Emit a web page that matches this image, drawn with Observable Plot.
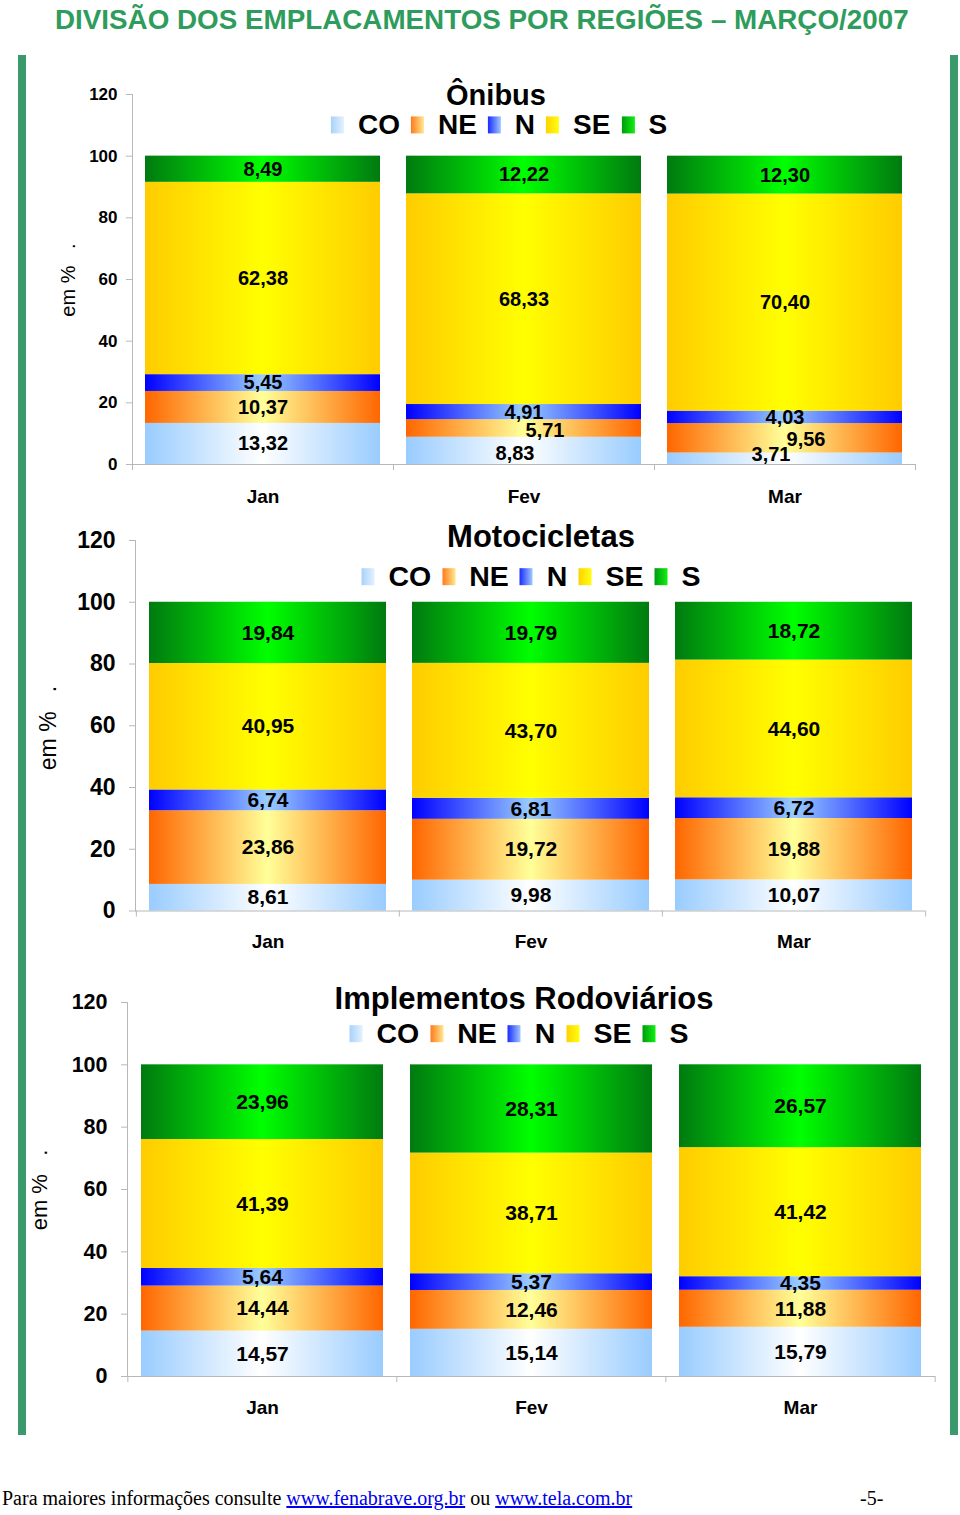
<!DOCTYPE html>
<html><head><meta charset="utf-8">
<script src="https://cdn.jsdelivr.net/npm/d3@7"></script>
<script src="https://cdn.jsdelivr.net/npm/@observablehq/plot@0.6"></script>
<style>
body{margin:0;background:#fff;font-family:"Liberation Sans",Arial,sans-serif;}
#page{position:relative;width:960px;height:1515px;overflow:hidden;background:#fff;}
#title{position:absolute;left:55px;top:6px;font-family:"Liberation Sans",Arial,sans-serif;font-weight:bold;font-size:27.8px;line-height:1;color:#2e9c5c;white-space:nowrap}
.ttl{position:absolute;font-weight:bold;color:#000;white-space:nowrap;transform:translate(-50%,-50%);line-height:0.9;}
.leg{position:absolute;display:flex;align-items:center;transform:translate(-50%,-50%);font-weight:bold;white-space:nowrap;line-height:0.9;color:#000}
.sw{display:inline-block;flex:0 0 13px;width:13px;height:17px;margin-right:14px}
.lt{margin-right:11px}
.lt:last-child{margin-right:0}
.ylab{position:absolute;white-space:pre;transform:translate(-50%,-50%) rotate(-90deg);line-height:1;color:#000}
.side{position:absolute;width:8px;background:#3a9a6c;z-index:5}
#foot{position:absolute;left:2px;top:1488px;font-family:"Liberation Serif","Times New Roman",serif;font-size:20px;line-height:1;white-space:pre;color:#000}
#foot a{color:#0000ee;text-decoration:underline}
#pg{position:absolute;left:860px;top:1488px;font-family:"Liberation Serif","Times New Roman",serif;font-size:20px;line-height:1}
</style>
</head><body>
<div id="page">
<svg width="0" height="0" style="position:absolute"><defs id="defs"></defs></svg>
<div id="title">DIVISÃO DOS EMPLACAMENTOS POR REGIÕES – MARÇO/2007</div>
<div class="side" style="left:18px;top:55px;height:1380px"></div>
<div class="side" style="left:950px;top:55px;height:1380px"></div>
<div id="foot">Para maiores informações consulte <a>www.fenabrave.org.br</a> ou <a>www.tela.com.br</a></div>
<div id="pg">-5-</div>
</div>
<script>
// ---- data ----
const meses = ["Jan", "Fev", "Mar"];
const regioes = ["CO", "NE", "N", "SE", "S"];
// values per month, in region order CO, NE, N, SE, S
const onibus = [
  [13.32, 10.37, 5.45, 62.38, 8.49],
  [8.83, 5.71, 4.91, 68.33, 12.22],
  [3.71, 9.56, 4.03, 70.40, 12.30]
];
const motocicletas = [
  [8.61, 23.86, 6.74, 40.95, 19.84],
  [9.98, 19.72, 6.81, 43.70, 19.79],
  [10.07, 19.88, 6.72, 44.60, 18.72]
];
const implementos = [
  [14.57, 14.44, 5.64, 41.39, 23.96],
  [15.14, 12.46, 5.37, 38.71, 28.31],
  [15.79, 11.88, 4.35, 41.42, 26.57]
];
const titulos = ["Ônibus", "Motocicletas", "Implementos Rodoviários"];
const yTicks = [0, 20, 40, 60, 80, 100, 120];
const yLabel = "em %   .";

// ---- styles & layout ----
const gradColors = {
  CO: ["#99ccff", "#ffffff"],
  NE: ["#ff6600", "#ffff99"],
  N: ["#0000ff", "#99ccff"],
  SE: ["#ffcc00", "#ffff00"],
  S: ["#007a10", "#00ff00"]
};
const swatchColors = {
  CO: ["#a8d2fa", "#e4f1ff"],
  NE: ["#ff7a1a", "#ffe890"],
  N: ["#1a2cff", "#a0c8ff"],
  SE: ["#ffd200", "#ffff10"],
  S: ["#009a10", "#10f010"]
};
const gray = "#b8b8b8";
const fmt = v => v.toFixed(2).replace(".", ",");

// manual label nudges (as in the original chart), keyed "chart|month|region"
const nudges = {
  "0|Fev|N": [0, 0],
  "0|Fev|NE": [21, 2],
  "0|Fev|CO": [-9, 3],
  "0|Mar|NE": [21, 1],
  "0|Mar|CO": [-14, -4]
};

const defs = document.getElementById("defs");
for (const r of regioes) {
  const [edge, mid] = gradColors[r];
  defs.insertAdjacentHTML("beforeend",
    `<linearGradient id="g-${r}" x1="0" x2="1" y1="0" y2="0">
       <stop offset="0" stop-color="${edge}"/>
       <stop offset="0.5" stop-color="${mid}"/>
       <stop offset="1" stop-color="${edge}"/>
     </linearGradient>`);
}

const page = document.getElementById("page");

const layouts = [
  {values: onibus, l: 132, r: 915, y120: 94, y0: 464, tick: 17, tp: 9, lab: 20, xf: 19, xtp: 25,
   tx: 496, ty: 95, tfs: 29, lx: 499, ly: 125, lfs: 28, yx: 68, yy: 280, yfs: 20},
  {values: motocicletas, l: 135, r: 925, y120: 539.5, y0: 910, tick: 23, tp: 14, lab: 21, xf: 19, xtp: 23,
   tx: 541, ty: 537, tfs: 31, lx: 531, ly: 577, lfs: 28.5, yx: 48, yy: 728, yfs: 23},
  {values: implementos, l: 127, r: 935, y120: 1001.5, y0: 1375.5, tick: 21.5, tp: 14, lab: 21, xf: 19, xtp: 23.5,
   tx: 524, ty: 999, tfs: 31, lx: 519, ly: 1034, lfs: 28.5, yx: 40, yy: 1190, yfs: 22}
];

layouts.forEach((c, k) => {
  const rows = meses.flatMap((m, i) => regioes.map((r, j) => ({mes: m, regiao: r, valor: c.values[i][j]})));
  const mt = 30, mb = 50;
  const height = mt + (c.y0 - c.y120) + mb;
  const step = (c.r - c.l) / meses.length;
  const key = d => `${k}|${d.mes}|${d.regiao}`;
  const labelMarks = [];
  const groups = d3.group(rows, d => nudges[key(d)] ? key(d) : "");
  for (const [g] of groups) {
    const [dx, dy] = g ? nudges[g] : [0, 0];
    labelMarks.push(Plot.textY(rows, Plot.stackY({
      x: "mes", y: "valor", z: "regiao",
      text: d => ((nudges[key(d)] ? key(d) : "") === g ? fmt(d.valor) : null),
      dx, dy, fontSize: c.lab, fill: "#000"
    })));
  }
  const svg = Plot.plot({
    width: 960, height,
    marginTop: mt, marginBottom: mb, marginLeft: c.l, marginRight: 960 - c.r,
    style: {fontFamily: "'Liberation Sans', Arial, sans-serif", fontWeight: "bold", background: "transparent", color: "#000", overflow: "visible"},
    x: {domain: meses, paddingInner: 0.1, paddingOuter: 0.05, label: null},
    y: {domain: [0, 120], label: null},
    color: {domain: regioes, range: regioes.map(r => `url(#g-${r})`)},
    marks: [
      Plot.barY(rows, {x: "mes", y: "valor", fill: "regiao"}),
      ...labelMarks,
      Plot.frame({anchor: "left", stroke: gray}),
      Plot.ruleY([0], {stroke: gray}),
      Plot.ruleX(meses, {x: d => d, y1: 0, y2: 0, insetBottom: -6, dx: -step / 2, stroke: gray}),
      Plot.ruleX(meses.slice(-1), {x: d => d, y1: 0, y2: 0, insetBottom: -6, dx: step / 2, stroke: gray}),
      Plot.axisY({ticks: yTicks, tickSize: 6, tickPadding: c.tp, stroke: gray, fill: "#000", fontSize: c.tick, label: null}),
      Plot.axisX({tickSize: 0, tickPadding: c.xtp, fontSize: c.xf, fill: "#000", label: null})
    ]
  });
  svg.style.position = "absolute";
  svg.style.left = "0px";
  svg.style.top = (c.y120 - mt) + "px";
  page.appendChild(svg);

  const t = document.createElement("div");
  t.className = "ttl";
  t.style.left = c.tx + "px"; t.style.top = c.ty + "px"; t.style.fontSize = c.tfs + "px";
  t.textContent = titulos[k];
  page.appendChild(t);

  const lg = document.createElement("div");
  lg.className = "leg";
  lg.style.left = c.lx + "px"; lg.style.top = c.ly + "px"; lg.style.fontSize = c.lfs + "px";
  lg.innerHTML = regioes.map(r => {
    const [a, b] = swatchColors[r];
    return `<span class="sw" style="background:linear-gradient(to right, ${a}, ${b})"></span><span class="lt">${r}</span>`;
  }).join("");
  page.appendChild(lg);

  const yl = document.createElement("div");
  yl.className = "ylab";
  yl.style.left = c.yx + "px"; yl.style.top = c.yy + "px"; yl.style.fontSize = c.yfs + "px";
  yl.textContent = yLabel;
  page.appendChild(yl);
});
</script>
</body></html>
